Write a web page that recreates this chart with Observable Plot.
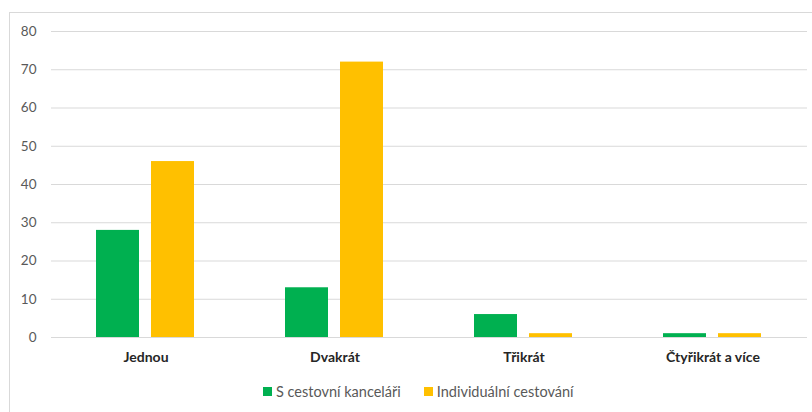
<!DOCTYPE html>
<html>
<head>
<meta charset="utf-8">
<script src="https://cdn.jsdelivr.net/npm/d3@7"></script>
<script src="https://cdn.jsdelivr.net/npm/@observablehq/plot@0.6"></script>
<style>
  html, body { margin: 0; padding: 0; background: #fff; }
  #frame {
    position: absolute; left: 9px; top: 12px; width: 803px; height: 400px;
    border-left: 1px solid #d9d9d9; border-top: 1px solid #d9d9d9;
    box-sizing: border-box;
  }
  #chart svg { display: block; }
  #legend { position: absolute; left: 253px; top: 370px; }
  .lg-swatches { font-family: Lato, "Noto Sans", sans-serif !important; font-size: 14.5px !important; color: #595959 !important; min-height: 0 !important; margin: 0 !important; }
  .lg-swatch { margin-right: 23px !important; }
  .lg-swatch > svg { margin-right: 4px !important; }
</style>
</head>
<body>
<div id="frame"><div id="chart"></div><div id="legend"></div></div>
<script>
// Kolikrát jste cestovali – počty odpovědí podle způsobu cestování
const categories = ["Jednou", "Dvakrát", "Třikrát", "Čtyřikrát a více"];
const series = ["S cestovní kanceláři", "Individuální cestování"];
const agencyValues = [28, 13, 6, 1];
const individualValues = [46, 72, 1, 1];
const seriesColors = ["#00B050", "#FFC000"];
const yTicks = [0, 10, 20, 30, 40, 50, 60, 70, 80];

const rows = categories.flatMap((c, i) => [
  {category: c, series: series[0], value: agencyValues[i]},
  {category: c, series: series[1], value: individualValues[i]}
]);

const chart = Plot.plot({
  width: 802,
  height: 362,
  marginLeft: 40,
  marginRight: 5,
  marginTop: 18,
  marginBottom: 38,
  style: {fontFamily: "Lato, 'Noto Sans', sans-serif", fontSize: "13.5px", color: "#595959", background: "#fff", overflow: "visible"},
  fx: {domain: categories, padding: 0, label: null, axis: "bottom", tickSize: 0, tickPadding: 15},
  x: {domain: series, paddingInner: 0.218, paddingOuter: 0.827, axis: null},
  y: {domain: [0, 80], ticks: yTicks, label: null, tickSize: 0, tickPadding: 15},
  color: {domain: series, range: seriesColors},
  marks: [
    Plot.ruleY(yTicks, {stroke: "#d9d9d9", strokeWidth: 1}),
    Plot.barY(rows, {fx: "category", x: "series", y: "value", fill: "series", inset: 0})
  ]
});

// bold dark category labels
d3.select(chart).selectAll("g[aria-label='fx-axis tick label'] text, g[aria-label='fx-axis'] text")
  .attr("font-weight", "bold").attr("fill", "#262626").attr("font-size", "14px");

document.getElementById("chart").appendChild(chart);

const legend = Plot.legend({
  color: {domain: series, range: seriesColors},
  className: "lg",
  swatchSize: 9
});
document.getElementById("legend").appendChild(legend);
</script>
</body>
</html>
